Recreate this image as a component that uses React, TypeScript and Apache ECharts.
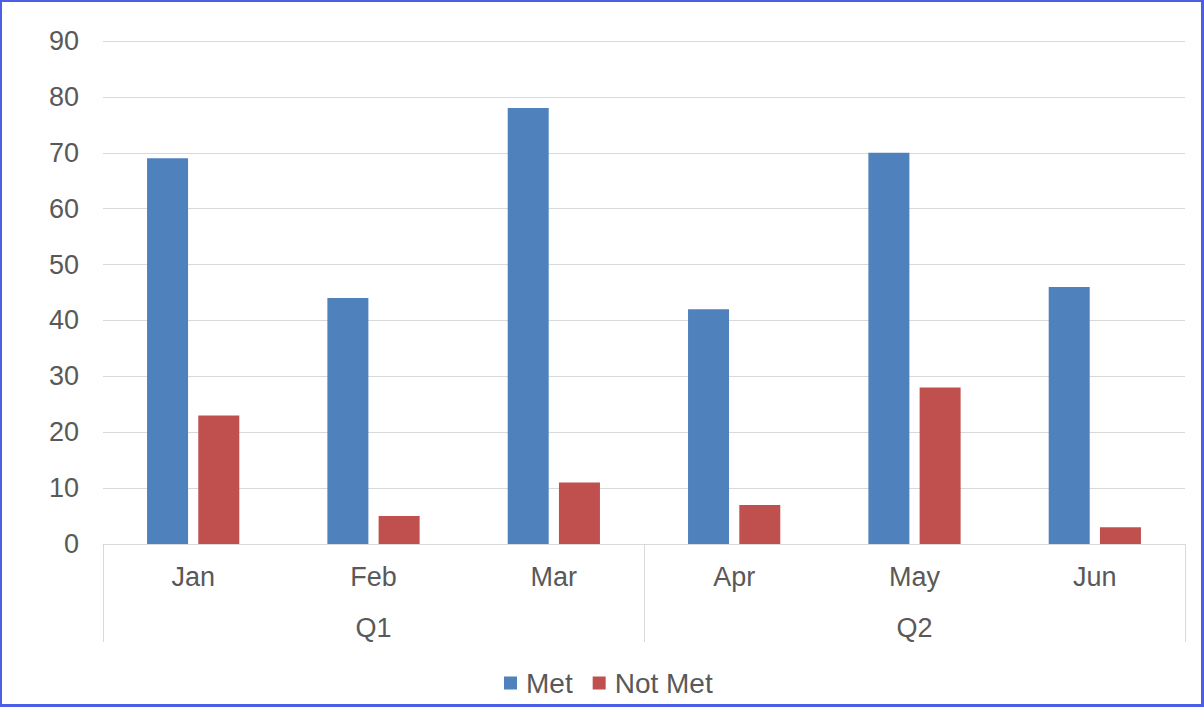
import React, { useEffect, useRef } from "react";
import * as echarts from "echarts";

const months = ["Jan", "Feb", "Mar", "Apr", "May", "Jun"];
const quarters = ["Q1", "Q2"];
const metValues = [69, 44, 78, 42, 70, 46];
const notMetValues = [23, 5, 11, 7, 28, 3];
const yTicks = { min: 0, max: 90, interval: 10 };

const FONT = "'Liberation Sans', Arial, sans-serif";
const TEXT = "#595959";
const LINE = "#d9d9d9";

export default function App() {
  const ref = useRef<HTMLDivElement>(null);
  useEffect(() => {
    if (!ref.current) return;
    const chart = echarts.init(ref.current, undefined, { renderer: "svg" });
    chart.setOption({
      animation: false,
      backgroundColor: "#ffffff",
      textStyle: { fontFamily: FONT },
      grid: { left: 103, right: 19, top: 41, bottom: 163, containLabel: false },
      legend: {
        data: ["Met", "Not Met"],
        top: 664,
        left: 499,
        itemWidth: 13,
        itemHeight: 13,
        itemGap: 20,
        icon: "rect",
        textStyle: { color: TEXT, fontSize: 28, fontFamily: FONT, padding: [0, 0, 0, 4] },
      },
      xAxis: [
        {
          type: "category",
          data: months,
          position: "bottom",
          axisLine: { show: true, lineStyle: { color: LINE, width: 1 } },
          axisTick: { show: false },
          axisLabel: { color: TEXT, fontSize: 27, fontFamily: FONT, margin: 19 },
        },
        {
          type: "category",
          data: quarters,
          position: "bottom",
          offset: 0,
          axisLine: { show: false },
          axisTick: { show: true, length: 98, lineStyle: { color: LINE, width: 1 } },
          axisLabel: { color: TEXT, fontSize: 27, fontFamily: FONT, margin: 70 },
        },
      ],
      yAxis: {
        type: "value",
        min: yTicks.min,
        max: yTicks.max,
        interval: yTicks.interval,
        axisLine: { show: false },
        axisTick: { show: false },
        splitLine: { lineStyle: { color: LINE, width: 1 } },
        axisLabel: { color: TEXT, fontSize: 27, fontFamily: FONT, margin: 24 },
      },
      series: [
        {
          name: "Met",
          type: "bar",
          data: metValues,
          xAxisIndex: 0,
          barWidth: 41,
          barGap: "25%",
          itemStyle: { color: "#4F81BD" },
        },
        {
          name: "Not Met",
          type: "bar",
          data: notMetValues,
          xAxisIndex: 0,
          barWidth: 41,
          barGap: "25%",
          itemStyle: { color: "#C0504D" },
        },
      ],
    });
    return () => chart.dispose();
  }, []);
  return (
    <div style={{ position: "fixed", left: 0, top: 0, width: 1204, height: 707, background: "#fff" }}>
      <div ref={ref} style={{ position: "absolute", left: 0, top: 0, width: 1204, height: 707 }} />
      <div
        style={{
          position: "absolute",
          left: 0,
          top: 0,
          width: 1204,
          height: 707,
          boxSizing: "border-box",
          borderStyle: "solid",
          borderColor: "#4a5ee8",
          borderWidth: "2px 3px 3px 2px",
          pointerEvents: "none",
        }}
      />
    </div>
  );
}
